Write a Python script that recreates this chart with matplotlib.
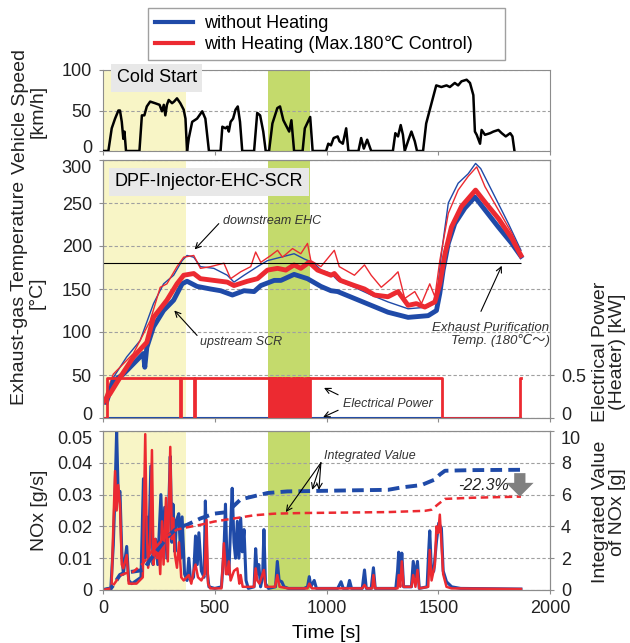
import matplotlib
matplotlib.use('Agg')
import matplotlib.pyplot as plt
import matplotlib.transforms as mtransforms
from matplotlib.lines import Line2D

plt.rcParams['font.family'] = ['Liberation Sans', 'DejaVu Sans', 'Noto Sans CJK JP']

BLUE = '#1f4aa8'
RED = '#ec2a31'
GRID = '#a0a0a0'
SPINE = '#8c8c8c'
YELLOW = '#f8f5c6'
GREEN = '#c4da6c'

# 走行パターン (車速)
speed_t = [0, 24, 39, 54, 69, 76, 84, 91, 96, 103, 163, 174, 185, 196, 211, 233, 253, 264, 272,
           279, 286, 294, 309, 318, 331, 346, 361, 369, 376, 384, 399, 421, 444, 458, 474, 526,
           534, 548, 556, 563, 571, 582, 593, 603, 613, 623, 676, 690, 703, 717, 728, 743, 758,
           780, 792, 807, 818, 833, 843, 855, 893, 903, 927, 938, 998, 1008, 1020, 1032, 1050,
           1058, 1073, 1088, 1098, 1143, 1155, 1167, 1182, 1200, 1297, 1308, 1320, 1332, 1342,
           1350, 1367, 1380, 1395, 1405, 1432, 1446, 1468, 1491, 1514, 1537, 1552, 1574, 1589,
           1604, 1627, 1642, 1657, 1664, 1672, 1687, 1694, 1709, 1732, 1747, 1769, 1784, 1802,
           1822, 1832, 1841]
speed_kmh = [0, 0, 28, 40, 50, 50, 36, 15, 24, 0, 0, 44, 44, 55, 61, 59, 57, 49, 57,
             44, 57, 63, 59, 61, 65, 59, 51, 40, 0, 16, 36, 40, 49, 40, 0, 0,
             30, 28, 30, 24, 36, 40, 51, 55, 36, 0, 0, 47, 44, 24, 0, 0, 34,
             53, 55, 38, 32, 24, 38, 0, 0, 28, 42, 0, 0, 9, 7, 16, 18,
             12, 9, 28, 0, 0, 16, 3, 14, 0, 0, 22, 18, 32, 20,
             0, 14, 24, 12, 0, 0, 34, 57, 81, 79, 81, 79, 84, 81,
             86, 88, 84, 69, 24, 20, 9, 26, 20, 22, 24, 26, 22, 18,
             22, 18, 0]

# 排気温度 (上流SCR:太線, 下流EHC:細線)
scr_off_t = [15, 46, 91, 136, 181, 187, 196, 226, 271, 316, 354, 376, 421, 481, 526, 579, 631,
             676, 706, 766, 796, 855, 915, 975, 1020, 1050, 1125, 1200, 1275, 1365, 1455, 1492,
             1507, 1522, 1545, 1574, 1619, 1664, 1709, 1769, 1829, 1870]
scr_off = [18, 43, 51, 63, 75, 59, 82, 106, 125, 137, 156, 159, 153, 150, 148, 143, 148,
           147, 154, 160, 160, 167, 162, 153, 148, 147, 139, 131, 123, 117, 119, 125,
           145, 172, 203, 226, 244, 257, 242, 222, 203, 188]
scr_on_t = [0, 31, 76, 136, 196, 226, 286, 331, 361, 406, 436, 496, 556, 586, 646, 691, 736,
            781, 818, 855, 885, 922, 960, 1020, 1035, 1062, 1125, 1170, 1215, 1275, 1320, 1365,
            1402, 1440, 1485, 1507, 1530, 1559, 1604, 1667, 1709, 1769, 1829, 1870]
scr_on = [18, 28, 47, 71, 88, 117, 137, 156, 166, 168, 162, 160, 158, 154, 159, 162, 172,
          174, 172, 178, 174, 181, 172, 166, 168, 160, 154, 150, 143, 141, 147, 131,
          133, 129, 135, 156, 191, 222, 246, 265, 251, 232, 209, 189]
ehc_off_t = [15, 46, 106, 166, 226, 271, 316, 354, 376, 406, 436, 496, 556, 586, 631, 691, 736,
             796, 855, 900, 945, 975, 1020, 1050, 1125, 1200, 1275, 1365, 1455, 1492, 1514,
             1545, 1589, 1634, 1667, 1690, 1754, 1814, 1870]
ehc_off = [18, 47, 71, 90, 133, 156, 166, 183, 189, 187, 176, 174, 166, 158, 166, 176, 183,
           187, 191, 185, 180, 172, 168, 160, 152, 143, 135, 127, 129, 137, 191,
           250, 273, 284, 296, 290, 257, 226, 195]
ehc_on_t = [0, 46, 136, 211, 256, 286, 331, 361, 406, 436, 481, 541, 571, 616, 661, 683, 706,
            751, 781, 803, 848, 885, 915, 930, 975, 1035, 1057, 1125, 1170, 1200, 1245, 1290,
            1320, 1350, 1395, 1425, 1462, 1485, 1507, 1545, 1589, 1634, 1672, 1709, 1769, 1829,
            1870]
ehc_on = [18, 51, 75, 113, 152, 156, 176, 187, 189, 174, 176, 180, 162, 170, 176, 193, 181,
          189, 195, 187, 197, 191, 203, 183, 176, 195, 176, 166, 178, 166, 152, 162,
          170, 139, 147, 133, 156, 141, 183, 238, 265, 281, 292, 269, 242, 215, 191]
purif_temp = 180

# ヒーター電力 [kW]
power_on_t = [0, 16, 346, 351, 406, 411,
              742, 747, 752, 756, 760, 766, 770, 775, 781, 786, 792, 798, 805, 810, 818, 822,
              828, 833, 838, 845, 850, 856, 862, 868, 873, 878, 884, 890, 897, 903, 913, 918,
              922, 927, 1515, 1866, 1872]
power_on = [0, 0.46, 0, 0.46, 0, 0.46,
            0, 0.46, 0, 0.46, 0, 0.46, 0, 0.46, 0, 0.46, 0, 0.46, 0, 0.46, 0, 0.46,
            0, 0.46, 0, 0.46, 0, 0.46, 0, 0.46, 0, 0.46, 0, 0.46, 0, 0.46, 0, 0.46,
            0, 0.46, 0, 0.46, 0.46]
power_off_t = [0, 1870]
power_off = [0, 0]

# NOx 排出量 [g/s]
nox_off_t = [0, 35, 46, 54, 61, 68, 76, 84, 91, 106, 115, 129, 150, 170, 181, 187, 196, 203, 214,
             224, 235, 245, 259, 268, 276, 286, 294, 301, 308, 313, 322, 329, 339, 348, 354, 365,
             376, 384, 392, 405, 414, 422, 429, 440, 452, 458, 466, 474, 500, 530, 541, 548, 555,
             563, 571, 578, 586, 593, 601, 608, 616, 623, 631, 640, 650, 676, 683, 690, 697, 705,
             714, 720, 727, 740, 772, 780, 788, 800, 810, 830, 900, 915, 923, 930, 945, 955, 1050,
             1065, 1075, 1095, 1103, 1112, 1160, 1170, 1178, 1200, 1210, 1218, 1310, 1318, 1323,
             1330, 1337, 1345, 1380, 1388, 1398, 1407, 1415, 1450, 1457, 1462, 1470, 1480, 1492,
             1502, 1514, 1522, 1537, 1560, 1600, 1870]
nox_off = [0, 0.0005, 0.014, 0.031, 0.05, 0.03, 0.031, 0.012, 0.005, 0.0137, 0.003, 0.002, 0.003,
           0.004, 0.035, 0.01, 0.023, 0.008, 0.039, 0.008, 0.016, 0.008, 0.030, 0.012, 0.026,
           0.01, 0.026, 0.042, 0.015, 0.027, 0.012, 0.022, 0.024, 0.01, 0.023, 0.005, 0.003,
           0.010, 0.003, 0.004, 0.017, 0.008, 0.018, 0.006, 0.004, 0.028, 0.006, 0.001, 0.0005,
           0.001, 0.012, 0.027, 0.008, 0.005, 0.02, 0.032, 0.015, 0.01, 0.0216, 0.01, 0.0226,
           0.012, 0.019, 0.003, 0.0005, 0.001, 0.013, 0.005, 0.008, 0.001, 0.004, 0.019, 0.002,
           0.0005, 0.001, 0.009, 0.003, 0.0026, 0.001, 0.0005, 0.0005, 0.001, 0.0042, 0.001,
           0.003, 0.0005, 0.0005, 0.0026, 0.0005, 0.0005, 0.003, 0.0005, 0.0005, 0.0063, 0.0005,
           0.0005, 0.007, 0.0005, 0.0005, 0.006, 0.0119, 0.004, 0.0116, 0.001, 0.001, 0.009,
           0.004, 0.009, 0.0005, 0.001, 0.012, 0.0186, 0.005, 0.006, 0.0153, 0.021, 0.0195,
           0.006, 0.0026, 0.001, 0.0005, 0.0003]
nox_on_t = [0, 38, 46, 54, 61, 68, 76, 84, 91, 106, 115, 150, 178, 189, 195, 202, 211, 219, 226,
            234, 242, 249, 256, 264, 271, 282, 290, 301, 308, 314, 322, 331, 340, 350, 361, 384,
            395, 406, 414, 425, 440, 455, 463, 470, 480, 530, 541, 550, 556, 563, 571, 586, 601,
            610, 616, 625, 676, 683, 690, 700, 720, 727, 770, 780, 790, 830, 915, 923, 935, 1160,
            1170, 1180, 1205, 1210, 1218, 1318, 1323, 1330, 1337, 1345, 1380, 1388, 1398, 1407,
            1415, 1455, 1462, 1470, 1485, 1492, 1500, 1507, 1514, 1522, 1537, 1560, 1870]
nox_on = [0, 0.0005, 0.0195, 0.0374, 0.025, 0.033, 0.027, 0.008, 0.0068, 0.011, 0.002, 0.002,
          0.004, 0.049, 0.02, 0.007, 0.015, 0.044, 0.008, 0.016, 0.010, 0.014, 0.005, 0.0216,
          0.008, 0.029, 0.009, 0.045, 0.016, 0.0226, 0.011, 0.007, 0.015, 0.004, 0.003, 0.0047,
          0.002, 0.006, 0.008, 0.004, 0.003, 0.005, 0.022, 0.002, 0.0005, 0.0005, 0.0147, 0.005,
          0.005, 0.009, 0.003, 0.006, 0.0068, 0.002, 0.0047, 0.001, 0.001, 0.0068, 0.003, 0.002,
          0.0063, 0.001, 0.001, 0.0047, 0.001, 0.0005, 0.0005, 0.002, 0.0005, 0.0005, 0.0016,
          0.0005, 0.0005, 0.0047, 0.0005, 0.0005, 0.0047, 0.001, 0.009, 0.001, 0.001, 0.0047,
          0.001, 0.0063, 0.0005, 0.001, 0.0126, 0.003, 0.008, 0.020, 0.018, 0.0237, 0.015,
          0.005, 0.001, 0.0005, 0.0003]

# NOx 積算値 [g]
cum_off_t = [0, 35, 46, 76, 100, 136, 181, 211, 249, 286, 331, 376, 436, 496, 556, 586, 616, 676,
             736, 825, 1125, 1275, 1335, 1425, 1485, 1507, 1530, 1649, 1870]
cum_off = [0, 0.1, 0.3, 0.95, 1.1, 1.16, 1.26, 1.9, 2.6, 3.3, 3.9, 4.1, 4.5, 4.8, 4.9, 5.3, 5.7,
           5.9, 6.1, 6.2, 6.27, 6.3, 6.45, 6.6, 6.95, 7.26, 7.5, 7.54, 7.56]
cum_on_t = [0, 35, 46, 76, 100, 136, 181, 211, 249, 286, 331, 361, 436, 496, 586, 676, 766, 885,
            1275, 1440, 1470, 1500, 1530, 1649, 1870]
cum_on = [0, 0.1, 0.3, 0.9, 1.05, 1.15, 1.7, 2.3, 2.9, 3.4, 3.8, 3.9, 4.1, 4.3, 4.5, 4.7, 4.8,
          4.84, 4.9, 4.98, 5.05, 5.4, 5.73, 5.8, 5.875]

cold_start = (0, 370)
control_zone = (740, 925)

W, H = 630, 643


def fx(px):
    return px / W


def fy(py):
    return 1 - py / H


def style_axes(ax, show_x=False):
    for s in ax.spines.values():
        s.set_color(SPINE)
    ax.set_xlim(0, 2000)
    ax.set_xticks([0, 500, 1000, 1500, 2000])
    ax.tick_params(axis='both', colors='#222222', labelsize=13, length=3, width=0.8,
                   color=SPINE, pad=5)
    ax.tick_params(axis='x', pad=4, labelbottom=show_x)
    ax.yaxis.grid(True, ls=(0, (3, 2)), color=GRID, lw=0.8)
    ax.set_axisbelow(True)
    ax.axvspan(*cold_start, color=YELLOW, lw=0, zorder=0.2)
    ax.axvspan(*control_zone, color=GREEN, lw=0, zorder=0.2)


def nudge(label, dy):
    # 隣り合うパネルの目盛りラベルが重ならないよう少しずらす
    label.set_transform(label.get_transform() +
                        mtransforms.ScaledTranslation(0, dy / 72, fig.dpi_scale_trans))


fig = plt.figure(figsize=(W / 100, H / 100), dpi=100)
ax1 = fig.add_axes([fx(103), fy(151), fx(447), 81 / H])
ax2 = fig.add_axes([fx(103), fy(418), fx(447), 258 / H])
ax3 = fig.add_axes([fx(103), fy(590), fx(447), 159 / H])

# --- 車速 ---
style_axes(ax1)
ax1.plot(speed_t, speed_kmh, color='black', lw=1.8, zorder=3)
ax1.set_ylim(0, 100)
ax1.set_yticks([0, 50, 100])
ax1.text(0.031, 0.905, 'Cold Start', transform=ax1.transAxes, fontsize=13, ha='left',
         va='center', clip_on=False, zorder=5,
         bbox=dict(boxstyle='square,pad=0.3', fc='#e8e8e8', ec='none'))

# --- 排気温度 ---
style_axes(ax2)
ax2.plot(ehc_off_t, ehc_off, color=BLUE, lw=1.0, zorder=3)
ax2.plot(ehc_on_t, ehc_on, color=RED, lw=1.0, zorder=3)
ax2.plot(scr_off_t, scr_off, color=BLUE, lw=3.5, zorder=3)
ax2.plot(scr_on_t, scr_on, color=RED, lw=3.5, zorder=3)
ax2.hlines(purif_temp, 0, scr_on_t[-1], color='black', lw=0.8, zorder=3)
ax2.set_ylim(0, 300)
ax2.set_yticks(range(0, 301, 50))
ax2.text(0.026, 0.915, 'DPF-Injector-EHC-SCR', transform=ax2.transAxes, fontsize=13,
         ha='left', va='center', zorder=5,
         bbox=dict(boxstyle='square,pad=0.3', fc='#e8e8e8', ec='none'))

arrow = dict(arrowstyle='->', color='black', lw=0.8, shrinkA=0, shrinkB=0)
ax2.text(539, 229, 'downstream EHC', style='italic', fontsize=9, ha='left', va='center',
         color='#333333')
ax2.annotate('', xy=(410, 196), xytext=(518, 226), arrowprops=arrow)
ax2.text(436, 88, 'upstream SCR', style='italic', fontsize=9, ha='left', va='center',
         color='#333333')
ax2.annotate('', xy=(319, 125), xytext=(421, 96), arrowprops=arrow)
ax2.text(1998, 97, 'Exhaust Purification\nTemp. (180℃～)', style='italic', fontsize=9.5,
         ha='right', va='center', multialignment='right', color='#333333', linespacing=1.05)
ax2.annotate('', xy=(1784, 177), xytext=(1691, 124), arrowprops=arrow)

ax2r = ax2.twinx()
for s in ax2r.spines.values():
    s.set_color(SPINE)
ax2r.plot(power_off_t, power_off, color=BLUE, lw=1.5, drawstyle='steps-post')
ax2r.plot(power_on_t, power_on, color=RED, lw=2.0, drawstyle='steps-post')
ax2r.set_ylim(0, 3)
ax2r.set_yticks([0, 0.5])
ax2r.set_yticklabels(['0', '0.5'])
ax2r.tick_params(colors='#222222', labelsize=13, length=3, width=0.8, color=SPINE, pad=5)
ax2r.text(1075, 0.16, 'Electrical Power', style='italic', fontsize=9, ha='left', va='center',
          color='#333333')
ax2r.annotate('', xy=(989, 0.35), xytext=(1052, 0.27), arrowprops=arrow)
ax2r.annotate('', xy=(985, 0.01), xytext=(1052, 0.09), arrowprops=arrow)

# --- NOx ---
style_axes(ax3, show_x=True)
ax3.plot(nox_off_t, nox_off, color=BLUE, lw=2.2, zorder=3)
ax3.plot(nox_on_t, nox_on, color=RED, lw=1.8, zorder=3)
ax3.set_ylim(0, 0.05)
ax3.set_yticks([0, 0.01, 0.02, 0.03, 0.04, 0.05])
ax3.set_yticklabels(['0', '0.01', '0.02', '0.03', '0.04', '0.05'])
ax3.set_xlabel('Time [s]', fontsize=14, labelpad=6)

ax3r = ax3.twinx()
for s in ax3r.spines.values():
    s.set_color(SPINE)
ax3r.plot(cum_off_t, cum_off, color=BLUE, lw=2.8, ls=(0, (3, 1.6)))
ax3r.plot(cum_on_t, cum_on, color=RED, lw=1.8, ls=(0, (3, 1.8)))
ax3r.set_ylim(0, 10)
ax3r.set_yticks(range(0, 11, 2))
ax3r.tick_params(colors='#222222', labelsize=13, length=3, width=0.8, color=SPINE, pad=5)
ax3r.text(989, 8.43, 'Integrated Value', style='italic', fontsize=9, ha='left', va='center',
          color='#333333')
for tip in [(936, 6.3), (966, 6.3), (818, 4.9)]:
    ax3r.annotate('', xy=tip, xytext=(975, 8.0), arrowprops=arrow)

reduction = (cum_on[-1] - cum_off[-1]) / cum_off[-1] * 100
ax3r.text(1815, 6.55, f'{reduction:.1f}%', style='italic', fontsize=11.5, ha='right',
          va='center', color='#222222')
ax3r.annotate('', xy=(1865, cum_on[-1]), xytext=(1865, 7.35),
              arrowprops=dict(arrowstyle='simple,head_length=0.55,head_width=1.1,tail_width=0.45',
                              fc='#808080', ec='none', mutation_scale=18, shrinkA=0, shrinkB=0))

# 目盛りラベルの重なり回避
nudge(ax1.get_yticklabels()[0], 3)
nudge(ax2.get_yticklabels()[-1], -5)
nudge(ax2.get_yticklabels()[0], 3)
nudge(ax3.get_yticklabels()[-1], -5)
nudge(ax2r.get_yticklabels()[0], 3)
nudge(ax3r.get_yticklabels()[-1], -5)

# --- 軸ラベル ---
lab = dict(rotation=90, ha='center', va='center', fontsize=14, multialignment='center',
           linespacing=1.05, color='#222222')
fig.text(fx(29.5), fy(111), 'Vehicle Speed\n[km/h]', **lab)
fig.text(fx(28), fy(293), 'Exhaust-gas Temperature\n[°C]', **lab)
fig.text(fx(39), fy(510), 'NOx [g/s]', **lab)
fig.text(fx(609), fy(352), 'Electrical Power\n(Heater) [kW]', **lab)
fig.text(fx(609), fy(512), 'Integrated Value\nof NOx [g]', **lab)

# --- 凡例 ---
handles = [Line2D([], [], color=BLUE, lw=3), Line2D([], [], color=RED, lw=3)]
labels = ['without Heating', 'with Heating (Max.180℃ Control)']
fig.legend(handles, labels, loc='upper left', mode='expand',
           bbox_to_anchor=(fx(148), fy(58), fx(357), 50 / H), fontsize=13,
           frameon=True, fancybox=False, edgecolor='#888888', handlelength=2.1,
           labelspacing=0.2, borderpad=0.4, handletextpad=0.6, borderaxespad=0)

fig.savefig('out.png', dpi=100)
